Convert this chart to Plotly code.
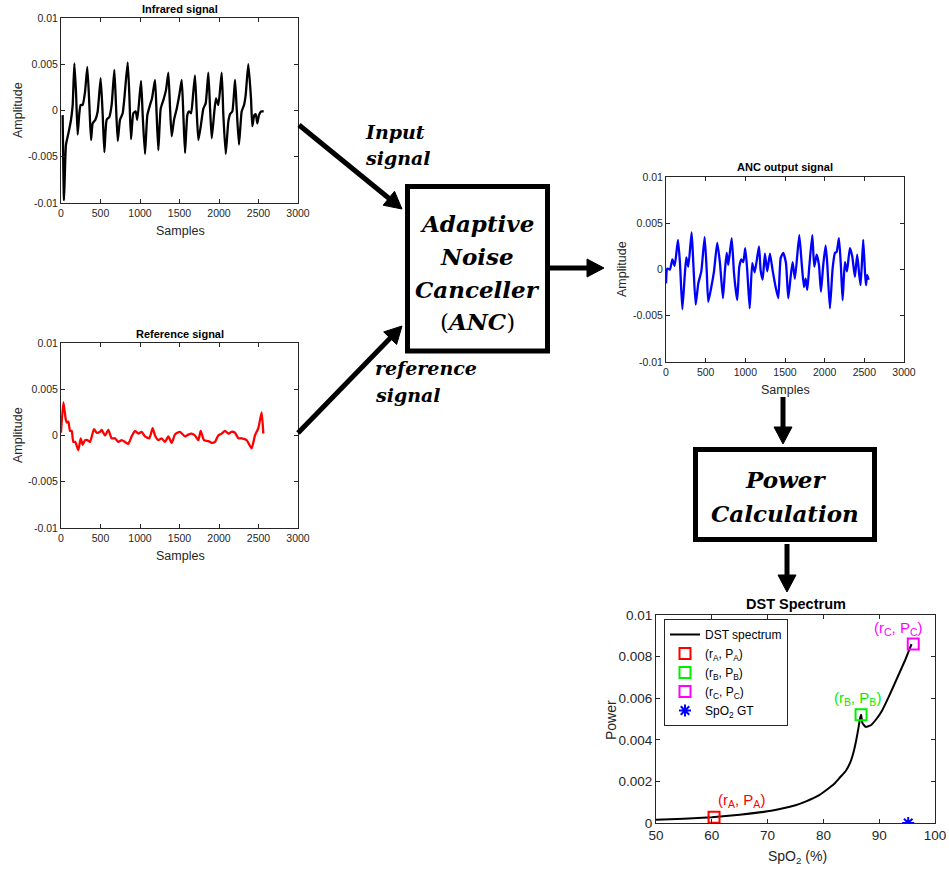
import plotly.graph_objects as go

W, H = 949, 871

# ---------------- data ----------------
ir_samples = [21, 38, 63, 93, 127, 148, 169, 190, 211, 232, 249, 274, 304, 333, 359, 380, 401, 435, 464, 502,
              528, 549, 578, 612, 641, 675, 696, 718, 747, 781, 802, 844, 865, 886, 916, 945, 966, 1013,
              1034, 1063, 1093, 1127, 1152, 1190, 1211, 1232, 1262, 1295, 1329, 1359, 1380, 1401, 1431,
              1465, 1498, 1528, 1549, 1570, 1599, 1620, 1646, 1675, 1696, 1718, 1739, 1769, 1802, 1832,
              1865, 1887, 1908, 1941, 1962, 1992, 2034, 2055, 2085, 2118, 2140, 2169, 2203, 2224, 2253,
              2287, 2317, 2338, 2371, 2405, 2422, 2447, 2465, 2485, 2506, 2532, 2566]
ir_amp = [-0.0005, -0.0097, -0.0037, -0.0025, -0.0010, 0.0006, 0.0051, 0.0020, -0.0026, -0.0003, 0.0006,
          0.0006, 0.0020, 0.0047, 0.0006, -0.0032, -0.0014, -0.0010, -0.0001, 0.0035, -0.0005, -0.0045,
          -0.0010, -0.0007, 0.0006, 0.0044, 0.0006, -0.0033, -0.0010, -0.0003, 0.0013, 0.0052, 0.0017,
          -0.0031, -0.0003, -0.0001, -0.0010, 0.0032, -0.0005, -0.0047, -0.0005, 0.0006, 0.0013, 0.0033,
          -0.0005, -0.0043, 0.0002, 0.0011, 0.0022, 0.0041, 0.0003, -0.0028, -0.0010, 0.0002, 0.0017,
          0.0033, -0.0005, -0.0046, -0.0005, -0.0001, -0.0003, 0.0020, 0.0038, -0.0001, -0.0032, -0.0017,
          0.0002, 0.0008, 0.0041, 0.0002, -0.0030, -0.0001, 0.0013, 0.0006, 0.0041, -0.0005, -0.0047,
          -0.0012, -0.0004, -0.0001, 0.0033, 0.0002, -0.0037, -0.0001, 0.0006, 0.0017, 0.0050, 0.0013,
          -0.0017, -0.0005, -0.0004, -0.0014, -0.0005, -0.0001, -0.0001]

ref_samples = [0, 30, 59, 72, 93, 114, 135, 156, 181, 219, 249, 274, 304, 333, 367, 418, 451, 494, 515, 557,
               599, 641, 683, 726, 768, 810, 852, 894, 937, 979, 1021, 1063, 1118, 1160, 1190, 1232, 1274,
               1316, 1359, 1401, 1443, 1506, 1569, 1612, 1654, 1696, 1738, 1768, 1810, 1865, 1907, 1949,
               1991, 2034, 2076, 2118, 2160, 2202, 2245, 2287, 2350, 2413, 2455, 2498, 2540, 2561]
ref_amp = [0.0003, 0.0036, 0.0018, 0.0014, 0.0015, 0.0005, 0.0005, -0.0007, -0.0007, -0.0016, -0.0003,
           -0.0010, -0.0005, -0.0005, -0.0007, 0.0007, 0.0003, 0.0004, 0.0006, 0.0000, 0.0006, -0.0003,
           -0.0003, -0.0007, -0.0005, -0.0007, -0.0009, -0.0001, 0.0005, 0.0002, 0.0004, -0.0001, -0.0003,
           0.0008, 0.0000, -0.0005, -0.0003, -0.0007, -0.0001, -0.0008, 0.0001, 0.0004, -0.0001, 0.0001,
           0.0002, 0.0000, -0.0005, 0.0005, -0.0005, -0.0006, -0.0008, -0.0007, 0.0000, 0.0002, 0.0005,
           0.0002, 0.0004, 0.0003, -0.0003, -0.0003, -0.0005, -0.0014, 0.0000, 0.0008, 0.0025, 0.0002]

anc_samples = [0, 17, 50, 80, 109, 151, 176, 206, 235, 256, 281, 323, 344, 374, 407, 445, 487, 513, 533, 571,
               605, 646, 680, 718, 743, 765, 785, 828, 857, 882, 898, 924, 949, 974, 999, 1024, 1055, 1087,
               1118, 1172, 1193, 1218, 1247, 1276, 1310, 1344, 1382, 1415, 1445, 1478, 1512, 1541, 1571,
               1596, 1625, 1680, 1710, 1739, 1760, 1781, 1806, 1844, 1869, 1899, 1928, 1953, 1982, 2012,
               2032, 2066, 2100, 2130, 2151, 2180, 2205, 2226, 2255, 2281, 2318, 2348, 2381, 2410, 2436,
               2453, 2486, 2507, 2520, 2536, 2554]
anc_amp = [-0.0015, 0.0001, 0.0000, 0.0011, 0.0004, 0.0032, 0.0007, -0.0043, -0.0008, 0.0013, 0.0003,
           0.0040, 0.0007, -0.0038, -0.0015, -0.0002, 0.0035, -0.0001, -0.0035, -0.0019, -0.0002, 0.0029,
           0.0007, -0.0031, -0.0001, 0.0018, 0.0005, 0.0034, -0.0004, -0.0024, -0.0033, 0.0003, 0.0011,
           0.0008, 0.0023, -0.0001, -0.0042, 0.0007, -0.0003, 0.0025, -0.0001, -0.0011, 0.0017, -0.0002,
           0.0017, -0.0001, -0.0019, -0.0031, 0.0012, 0.0018, 0.0007, -0.0031, -0.0008, 0.0008, -0.0010,
           0.0037, 0.0007, -0.0019, -0.0010, -0.0022, 0.0003, 0.0037, 0.0003, 0.0016, 0.0005, -0.0024,
           0.0005, 0.0026, 0.0007, -0.0042, 0.0001, 0.0018, 0.0019, 0.0034, 0.0003, -0.0033, 0.0008,
           -0.0002, 0.0023, 0.0014, -0.0008, 0.0016, -0.0006, -0.0017, 0.0032, -0.0001, -0.0017, -0.0006,
           -0.0011]

dst_spo2 = [50, 55, 60, 65, 70, 72, 75, 77, 79, 80.6, 82, 83, 84, 84.8, 85.4, 85.9, 86.3, 86.55, 86.75,
            87.0, 87.6, 88.5, 89.5, 90.5, 91.6, 92.6, 93.6, 94.6, 95.2, 95.8]
dst_power = [0.00016, 0.00021, 0.00028, 0.00040, 0.00056, 0.00066, 0.00085, 0.00105, 0.0013, 0.0016,
             0.0019, 0.0022, 0.0025, 0.0029, 0.0034, 0.0040, 0.0046, 0.0050, 0.0052, 0.0048, 0.00462,
             0.0047, 0.0050, 0.0054, 0.0060, 0.0066, 0.0072, 0.0078, 0.0082, 0.0086]

pt_names = ["(r<sub>A</sub>, P<sub>A</sub>)", "(r<sub>B</sub>, P<sub>B</sub>)", "(r<sub>C</sub>, P<sub>C</sub>)"]
pt_spo2 = [60.4, 86.75, 96.1]
pt_power = [0.00028, 0.0052, 0.0086]
pt_colors = ["#ff0000", "#00ee00", "#ff00ff"]
gt_spo2 = [95.2]
gt_power = [0.0]

sig_xticks = [0, 500, 1000, 1500, 2000, 2500, 3000]
sig_yticks = [-0.01, -0.005, 0, 0.005, 0.01]
sig_yticktext = ["-0.01", "-0.005", "0", "0.005", "0.01"]
dst_xticks = [50, 60, 70, 80, 90, 100]
dst_yticks = [0, 0.002, 0.004, 0.006, 0.008, 0.01]
dst_yticktext = ["0", "0.002", "0.004", "0.006", "0.008", "0.01"]

# ---------------- helpers ----------------
def fx(p):
    return p / W


def fy(p):
    return 1 - p / H


SANS = "Liberation Sans"
SERIF = "DejaVu Serif"
AX = "#262626"

fig = go.Figure()

sig_line = dict(width=2.3, shape="spline", smoothing=0.5)
fig.add_trace(go.Scatter(x=ir_samples, y=ir_amp, mode="lines", line=dict(color="black", **sig_line),
                         xaxis="x", yaxis="y", showlegend=False, hoverinfo="skip"))
fig.add_trace(go.Scatter(x=ref_samples, y=ref_amp, mode="lines", line=dict(color="#ff0000", **sig_line),
                         xaxis="x2", yaxis="y2", showlegend=False, hoverinfo="skip"))
fig.add_trace(go.Scatter(x=anc_samples, y=anc_amp, mode="lines", line=dict(color="#0000ff", **sig_line),
                         xaxis="x3", yaxis="y3", showlegend=False, hoverinfo="skip"))

fig.add_trace(go.Scatter(x=dst_spo2, y=dst_power, mode="lines", name="DST spectrum",
                         line=dict(color="black", width=2, shape="spline", smoothing=0.4),
                         xaxis="x4", yaxis="y4"))
for n, xs, ys, c in zip(pt_names, pt_spo2, pt_power, pt_colors):
    fig.add_trace(go.Scatter(x=[xs], y=[ys], mode="markers", name=n,
                             marker=dict(symbol="square-open", size=11, color=c, line=dict(color=c, width=2)),
                             xaxis="x4", yaxis="y4"))
fig.add_trace(go.Scatter(x=gt_spo2, y=gt_power, mode="markers", name="SpO<sub>2</sub> GT",
                         marker=dict(symbol="asterisk-open", size=10, color="#0000ff",
                                     line=dict(color="#0000ff", width=2)),
                         xaxis="x4", yaxis="y4"))


def xax(dom, rng, tv, fs, anchor):
    return dict(domain=[fx(dom[0]), fx(dom[1])], range=rng, tickvals=tv, ticks="inside", ticklen=4,
                tickcolor=AX, showline=True, linecolor=AX, linewidth=1, mirror="ticks", showgrid=False,
                zeroline=False, tickfont=dict(family=SANS, size=fs, color=AX), anchor=anchor, fixedrange=True,
                automargin=False)


def yax(dom, rng, tv, tt, fs, anchor):
    return dict(domain=[fy(dom[1]), fy(dom[0])], range=rng, tickvals=tv, ticktext=tt, ticks="inside",
                ticklen=4, tickcolor=AX, showline=True, linecolor=AX, linewidth=1, mirror="ticks",
                showgrid=False, zeroline=False, tickfont=dict(family=SANS, size=fs, color=AX), anchor=anchor,
                fixedrange=True, automargin=False)


layout = dict(
    width=W, height=H, margin=dict(l=0, r=0, t=0, b=0, pad=0, autoexpand=False),
    paper_bgcolor="white", plot_bgcolor="white",
    xaxis=xax((61, 298), [0, 3000], sig_xticks, 10.5, "y"),
    yaxis=yax((18, 203), [-0.01, 0.01], sig_yticks, sig_yticktext, 10.5, "x"),
    xaxis2=xax((61, 298), [0, 3000], sig_xticks, 10.5, "y2"),
    yaxis2=yax((343, 528), [-0.01, 0.01], sig_yticks, sig_yticktext, 10.5, "x2"),
    xaxis3=xax((666, 904), [0, 3000], sig_xticks, 10.5, "y3"),
    yaxis3=yax((177, 362), [-0.01, 0.01], sig_yticks, sig_yticktext, 10.5, "x3"),
    xaxis4=xax((656, 935), [50, 100], dst_xticks, 13.5, "y4"),
    yaxis4=yax((615, 823), [0, 0.01], dst_yticks, dst_yticktext, 13.5, "x4"),
    legend=dict(x=fx(664), y=fy(619), xanchor="left", yanchor="top", bgcolor="white",
                bordercolor=AX, borderwidth=1, font=dict(family=SANS, size=12, color="black"),
                itemwidth=30, tracegroupgap=0),
    showlegend=True,
)
fig.update_layout(**layout)

ann = []


def text(x, y, s, size, family=SANS, color="black", angle=0, **kw):
    ann.append(dict(x=fx(x), y=fy(y), xref="paper", yref="paper", text=s, showarrow=False,
                    font=dict(family=family, size=size, color=color), textangle=angle,
                    xanchor=kw.get("xanchor", "center"), yanchor="middle"))


# plot titles and axis labels
text(180, 9, "<b>Infrared signal</b>", 11)
text(180, 334, "<b>Reference signal</b>", 11)
text(785, 167, "<b>ANC output signal</b>", 11)
text(796, 604, "<b>DST Spectrum</b>", 14.5)
text(180, 231, "Samples", 12.5, color=AX)
text(180, 556, "Samples", 12.5, color=AX)
text(785, 390, "Samples", 12.5, color=AX)
text(18, 110, "Amplitude", 12.5, color=AX, angle=-90)
text(18, 435, "Amplitude", 12.5, color=AX, angle=-90)
text(622, 269, "Amplitude", 12.5, color=AX, angle=-90)
text(611, 720, "Power", 14, color=AX, angle=-90)
text(797, 857, "SpO<sub>2</sub> (%)", 14, color=AX)

# block diagram text
for s, y in zip(["<b><i>Adaptive</i></b>", "<b><i>Noise</i></b>", "<b><i>Canceller</i></b>",
                 "(<b><i>ANC</i></b>)"], [223, 256, 289, 322]):
    text(477.5, y, s, 23, family=SERIF)
for s, y in zip(["Power", "Calculation"], [480, 513]):
    text(785, y, "<b><i>" + s + "</i></b>", 23, family=SERIF)
text(363, 132, "<b><i>Input</i></b>", 19, family=SERIF, xanchor="left")
text(363, 158, "<b><i>signal</i></b>", 19, family=SERIF, xanchor="left")
text(373, 368, "<b><i>reference</i></b>", 19, family=SERIF, xanchor="left")
text(373, 395, "<b><i>signal</i></b>", 19, family=SERIF, xanchor="left")

# point labels near markers
shifts = [(27, 17), (-4, 16), (-15, 16)]
for n, xs, ys, c, (dx, dy) in zip(pt_names, pt_spo2, pt_power, pt_colors, shifts):
    ann.append(dict(x=xs, y=ys, xref="x4", yref="y4", text=n, showarrow=False, xshift=dx, yshift=dy,
                    font=dict(family=SANS, size=15, color=c), xanchor="center", yanchor="middle"))

fig.update_layout(annotations=ann)

shapes = []


def rect(x0, y0, x1, y1, w=5):
    shapes.append(dict(type="rect", xref="paper", yref="paper", x0=fx(x0), x1=fx(x1), y0=fy(y1), y1=fy(y0),
                       line=dict(color="black", width=w), fillcolor="rgba(0,0,0,0)"))


def arrow(x0, y0, x1, y1, w=5, hl=17, hw=9):
    dx, dy = x1 - x0, y1 - y0
    L = (dx * dx + dy * dy) ** 0.5
    ux, uy = dx / L, dy / L
    bx, by = x1 - ux * hl, y1 - uy * hl
    shapes.append(dict(type="line", xref="paper", yref="paper", x0=fx(x0), y0=fy(y0),
                       x1=fx(bx + ux * 2), y1=fy(by + uy * 2), line=dict(color="black", width=w)))
    px_, py_ = -uy, ux
    p = "M {},{} L {},{} L {},{} Z".format(fx(x1), fy(y1), fx(bx + px_ * hw), fy(by + py_ * hw),
                                          fx(bx - px_ * hw), fy(by - py_ * hw))
    shapes.append(dict(type="path", xref="paper", yref="paper", path=p, fillcolor="black",
                       line=dict(color="black", width=1)))


rect(407.5, 186.5, 547.5, 351)
rect(695.5, 449.5, 874.5, 539.5)
arrow(299, 125, 402, 209)
arrow(298, 433, 402, 326)
arrow(550, 268, 604, 268)
arrow(783, 397, 783, 444)
arrow(787, 544, 787, 592)

fig.update_layout(shapes=shapes)

fig.write_html("out.html", config={"displayModeBar": False},
               post_script="document.body.style.margin='0';")
